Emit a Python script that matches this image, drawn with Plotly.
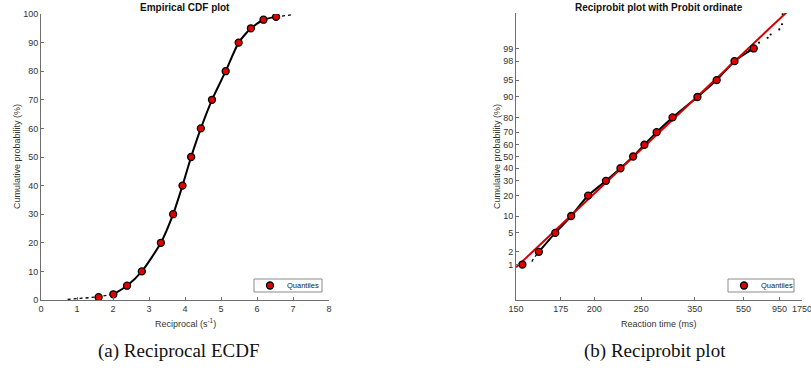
import plotly.graph_objects as go
from statistics import NormalDist

# ---------------- data ----------------
quantile_pct = [1, 2, 5, 10, 20, 30, 40, 50, 60, 70, 80, 90, 95, 98, 99]
quantile_recip = [1.60, 2.01, 2.39, 2.80, 3.33, 3.67, 3.93, 4.17, 4.44, 4.75, 5.13, 5.49, 5.83, 6.18, 6.53]

# ECDF tails (reciprocal plot)
low_tail_recip = [0.74, 0.99, 1.05, 1.27, 1.33, 1.57, 1.75, 2.01]
low_tail_pct = [0.2, 0.4, 0.4, 0.6, 0.8, 1.1, 1.4, 2.0]
high_tail_recip = [6.53, 6.72, 6.82, 6.96]
high_tail_pct = [99.0, 99.3, 99.5, 99.7]

# ECDF tails (reciprobit plot, reaction times in ms)
rt_low_tail = [158, 159, 161.8]
rt_low_pct = [1.18, 1.43, 2.0]
rt_high_tail = [573, 590, 672, 767, 807, 947, 1002, 1017]
rt_high_pct = [98.78, 98.9, 99.29, 99.47, 99.57, 99.69, 99.78, 99.89]

# fitted reciprocal normal (s^-1)
fit_mu = 4.16
fit_sd = 1.05

rt_ticks = [150, 175, 200, 250, 350, 550, 950, 1750]
probit_ticks = [1, 2, 5, 10, 20, 30, 40, 50, 60, 70, 80, 90, 95, 98, 99]
recip_x_ticks = [0, 1, 2, 3, 4, 5, 6, 7, 8]
recip_y_ticks = [0, 10, 20, 30, 40, 50, 60, 70, 80, 90, 100]
legend_label = "Quantiles"

# --------------- helpers ---------------
nd = NormalDist()
def z(p):
    return nd.inv_cdf(p / 100.0)
def negrecip(rt):
    return -1000.0 / rt

FONT = "Liberation Sans, Arial, sans-serif"
RED = "#d40000"
MRED = "#e00000"

fig = go.Figure()

# ---- left: empirical CDF ----
fig.add_trace(go.Scatter(x=low_tail_recip, y=low_tail_pct, mode="lines",
                         line=dict(color="black", width=1.3, dash="dot"),
                         showlegend=False, xaxis="x", yaxis="y"))
fig.add_trace(go.Scatter(x=high_tail_recip, y=high_tail_pct, mode="lines",
                         line=dict(color="black", width=1.3, dash="dot"),
                         showlegend=False, xaxis="x", yaxis="y"))
fig.add_trace(go.Scatter(x=quantile_recip[1:], y=quantile_pct[1:], mode="lines",
                         line=dict(color="black", width=2, shape="spline", smoothing=0.6),
                         showlegend=False, xaxis="x", yaxis="y"))
fig.add_trace(go.Scatter(x=quantile_recip, y=quantile_pct, mode="markers",
                         marker=dict(color=MRED, size=7, line=dict(color="black", width=1.3)),
                         name=legend_label, showlegend=False, xaxis="x", yaxis="y"))

# ---- right: reciprobit ----
rt_q = [1000.0 / r for r in quantile_recip]
pct_q = [100 - p for p in quantile_pct]
x_lo, x_hi = negrecip(rt_ticks[0]), negrecip(rt_ticks[-1])
fig.add_trace(go.Scatter(x=[negrecip(v) for v in rt_low_tail], y=[z(p) for p in rt_low_pct],
                         mode="lines", line=dict(color="black", width=1.3, dash="dot"),
                         showlegend=False, xaxis="x2", yaxis="y2"))
fig.add_trace(go.Scatter(x=[negrecip(v) for v in rt_high_tail], y=[z(p) for p in rt_high_pct],
                         mode="markers", marker=dict(color="black", size=2.2),
                         showlegend=False, xaxis="x2", yaxis="y2"))
solid_rt = rt_q[::-1][1:]
solid_pct = pct_q[::-1][1:]
fig.add_trace(go.Scatter(x=[negrecip(v) for v in solid_rt], y=[z(p) for p in solid_pct],
                         mode="lines", line=dict(color="black", width=2, shape="spline", smoothing=0.6),
                         showlegend=False, xaxis="x2", yaxis="y2"))
fig.add_trace(go.Scatter(x=[x_lo, x_hi], y=[(x_lo + fit_mu) / fit_sd, (x_hi + fit_mu) / fit_sd],
                         mode="lines", line=dict(color=RED, width=2),
                         showlegend=False, xaxis="x2", yaxis="y2"))
fig.add_trace(go.Scatter(x=[negrecip(v) for v in rt_q], y=[z(p) for p in pct_q], mode="markers",
                         marker=dict(color=MRED, size=7, line=dict(color="black", width=1.3)),
                         name=legend_label, showlegend=False, xaxis="x2", yaxis="y2"))

W, H = 811, 377
def fx(px): return px / W
def fy(py): return 1 - py / H

axis_common = dict(showgrid=False, zeroline=False, showline=True, linecolor="#6e6e6e",
                   linewidth=1, ticks="inside", ticklen=3, tickcolor="#6e6e6e", automargin=False,
                   ticklabeloverflow="allow",
                   tickfont=dict(family=FONT, size=9, color="#333333"), mirror=False)

fig.update_layout(
    width=W, height=H, margin=dict(l=0, r=0, t=0, b=0, autoexpand=False),
    paper_bgcolor="white", plot_bgcolor="white", showlegend=False,
    xaxis=dict(domain=[fx(41), fx(329)], range=[0, 8], tickvals=recip_x_ticks, anchor="y", **axis_common),
    yaxis=dict(domain=[fy(300), fy(14)], range=[0, 100], tickvals=recip_y_ticks, anchor="x", **axis_common),
    xaxis2=dict(domain=[fx(516), fx(802)], range=[x_lo, x_hi],
                tickvals=[negrecip(t) for t in rt_ticks], ticktext=[str(t) for t in rt_ticks],
                anchor="y2", **axis_common),
    yaxis2=dict(domain=[fy(300), fy(13)], range=[z(0.1), z(99.9)],
                tickvals=[z(p) for p in probit_ticks], ticktext=[str(p) for p in probit_ticks],
                anchor="x2", **axis_common),
)

# legend boxes (drawn as shapes to match the compact original legend)
for (x0, x1) in ((254, 322), (728, 794)):
    fig.add_shape(type="rect", xref="paper", yref="paper", x0=fx(x0), x1=fx(x1), y0=fy(292), y1=fy(279),
                  line=dict(color="#8a8a8a", width=1), fillcolor="white", layer="above")
    cx = x0 + 16
    fig.add_shape(type="circle", xref="paper", yref="paper", x0=fx(cx - 3.5), x1=fx(cx + 3.5),
                  y0=fy(289), y1=fy(282), line=dict(color="black", width=1.3), fillcolor=MRED, layer="above")
    fig.add_annotation(text=legend_label, x=fx(x0 + 31), y=fy(285.5), xref="paper", yref="paper",
                       showarrow=False, xanchor="left", yanchor="middle",
                       font=dict(family=FONT, size=7.5, color="#222"))

ann = [
    dict(text="<b>Empirical CDF plot</b>", x=fx(185), y=fy(7), size=10, family=FONT, color="#111"),
    dict(text="<b>Reciprobit plot with Probit ordinate</b>", x=fx(659), y=fy(7), size=10, family=FONT, color="#111"),
    dict(text="Reciprocal (s<sup>-1</sup>)", x=fx(185), y=fy(323), size=9, family=FONT, color="#333"),
    dict(text="Reaction time (ms)", x=fx(659), y=fy(324), size=9, family=FONT, color="#333"),
    dict(text="(a) Reciprocal ECDF", x=fx(178), y=fy(351), size=19, family="Liberation Serif, DejaVu Serif, serif", color="#111"),
    dict(text="(b) Reciprobit plot", x=fx(655), y=fy(351), size=19, family="Liberation Serif, DejaVu Serif, serif", color="#111"),
]
for a in ann:
    fig.add_annotation(text=a["text"], x=a["x"], y=a["y"], xref="paper", yref="paper",
                       showarrow=False, xanchor="center", yanchor="middle",
                       font=dict(family=a["family"], size=a["size"], color=a["color"]))
for xpos in (17, 497):
    fig.add_annotation(text="Cumulative probability (%)", x=fx(xpos), y=fy(157), xref="paper", yref="paper",
                       showarrow=False, textangle=-90, xanchor="center", yanchor="middle",
                       font=dict(family=FONT, size=9, color="#333"))

fig.write_html("out.html")
